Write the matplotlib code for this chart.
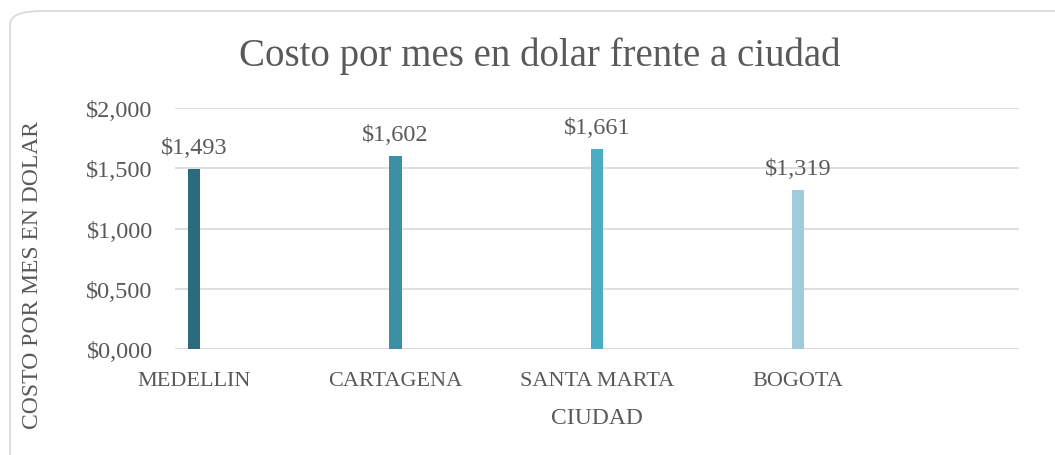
import matplotlib

matplotlib.use("Agg")
import matplotlib.pyplot as plt
from matplotlib.patches import FancyBboxPatch
from matplotlib.ticker import FuncFormatter

# ----------------------------------------------------------------------
# Datos
# ----------------------------------------------------------------------
ciudades = ["MEDELLIN", "CARTAGENA", "SANTA MARTA", "BOGOTA"]
costo = [1.493, 1.602, 1.661, 1.319]
y_ticks = [0.0, 0.5, 1.0, 1.5, 2.0]

colores = ["#2C6B7B", "#3D8FA6", "#4BACC6", "#A0CBDC"]
TXT = "#595959"
plt.rcParams["font.family"] = ["Liberation Serif", "DejaVu Serif"]


def fmt_dolar(v, pos=None):
    return "$" + f"{v:.3f}".replace(".", ",")


fig = plt.figure(figsize=(10.55, 4.56), dpi=100)

# marco redondeado del grafico
marco = FancyBboxPatch((10 / 1055, -0.05), 1.2, 1.05 - 12 / 456,
                       boxstyle="round,pad=0,rounding_size=0.03",
                       transform=fig.transFigure, facecolor="white",
                       edgecolor="#D9D9D9", linewidth=1.2, zorder=-10)
fig.patches.append(marco)

ax = fig.add_axes([175 / 1055, 1 - 350 / 456,
                   (1018.6 - 175) / 1055, (350 - 109) / 456])
ax.set_facecolor("none")

x = list(range(len(ciudades)))
ax.bar(x, costo, width=0.062, color=colores, zorder=3)
for xi, v in zip(x, costo):
    ax.annotate(fmt_dolar(v), (xi, v), xytext=(0, 8), textcoords="offset points",
                ha="center", va="bottom", fontsize=17.5, color=TXT)

ax.set_xlim(-0.095, 4.095)
ax.set_ylim(0, 2.0)
ax.set_yticks(y_ticks)
ax.yaxis.set_major_formatter(FuncFormatter(fmt_dolar))
ax.set_xticks(x)
ax.set_xticklabels(ciudades)
ax.tick_params(axis="both", length=0, labelsize=17.5, labelcolor=TXT)
ax.tick_params(axis="x", pad=16, labelsize=16)
ax.tick_params(axis="y", pad=16)
ax.grid(axis="y", color="#D9D9D9", linewidth=1.2, zorder=0)
for s in ax.spines.values():
    s.set_visible(False)
ax.axhline(0, color="#D9D9D9", linewidth=1.5, zorder=1)

fig.text(540 / 1055, 1 - 56 / 456, "Costo por mes en dolar frente a ciudad",
         ha="center", va="center", fontsize=28, color=TXT)
fig.text(597 / 1055, 1 - 419 / 456, "CIUDAD", ha="center", va="center",
         fontsize=17, color=TXT)
fig.text(33 / 1055, 1 - 275 / 456, "COSTO POR MES EN DOLAR", ha="center",
         va="center", rotation=90, fontsize=17, color=TXT)

fig.savefig("out.png", dpi=100)
